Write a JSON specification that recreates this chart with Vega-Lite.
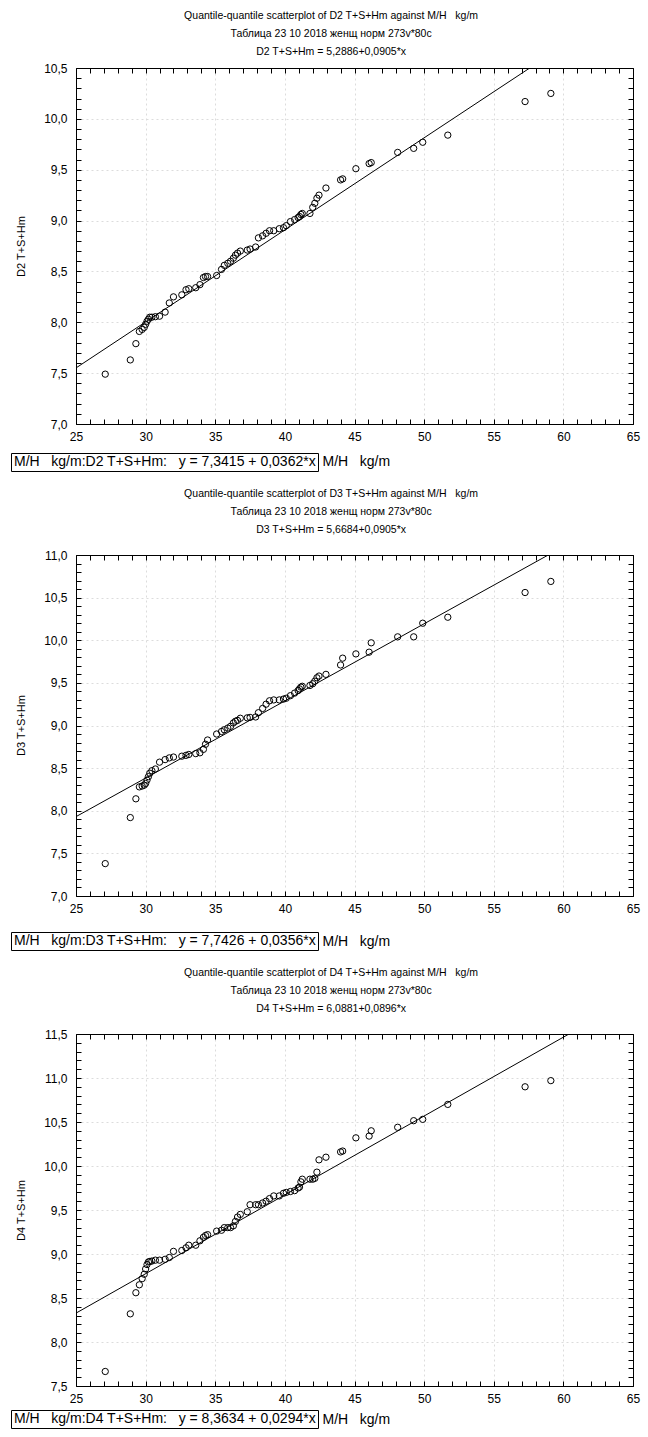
{
  "$schema": "https://vega.github.io/schema/vega-lite/v6.json",
  "background": "white",
  "padding": {"left": 10, "top": 10, "right": 4, "bottom": 2},
  "config": {
    "locale": {"number": {"decimal": ",", "thousands": " ", "grouping": [3], "currency": ["", ""]}},
    "font": "Liberation Sans",
    "view": {"stroke": null},
    "axis": {"domainColor": "black", "tickColor": "black", "labelColor": "black", "titleColor": "black", "labelFont": "Liberation Sans", "titleFont": "Liberation Sans", "labelFontSize": 12, "titleFontWeight": "normal", "labelOverlap": false, "labelFlush": false, "domainWidth": 1, "tickWidth": 1},
    "legend": {"labelFont": "Liberation Sans"},
    "title": {"font": "Liberation Sans", "fontWeight": "normal", "fontSize": 10.5, "color": "black"}
  },
  "datasets": {
    "pts": [
      {"x": 27.1, "d2": 7.49, "d3": 7.38, "d4": 7.665},
      {"x": 28.9, "d2": 7.63, "d3": 7.92, "d4": 8.32},
      {"x": 29.3, "d2": 7.79, "d3": 8.14, "d4": 8.56},
      {"x": 29.55, "d2": 7.91, "d3": 8.28, "d4": 8.65},
      {"x": 29.75, "d2": 7.93, "d3": 8.29, "d4": 8.72},
      {"x": 29.9, "d2": 7.95, "d3": 8.3, "d4": 8.77},
      {"x": 30.0, "d2": 7.98, "d3": 8.32, "d4": 8.83},
      {"x": 30.1, "d2": 8.01, "d3": 8.36, "d4": 8.88},
      {"x": 30.2, "d2": 8.03, "d3": 8.4, "d4": 8.91},
      {"x": 30.3, "d2": 8.05, "d3": 8.44, "d4": 8.915},
      {"x": 30.45, "d2": 8.05, "d3": 8.47, "d4": 8.92},
      {"x": 30.7, "d2": 8.055, "d3": 8.49, "d4": 8.93},
      {"x": 31.0, "d2": 8.06, "d3": 8.57, "d4": 8.93},
      {"x": 31.4, "d2": 8.1, "d3": 8.6, "d4": 8.94},
      {"x": 31.7, "d2": 8.19, "d3": 8.62, "d4": 8.96},
      {"x": 32.0, "d2": 8.25, "d3": 8.63, "d4": 9.03},
      {"x": 32.6, "d2": 8.27, "d3": 8.64, "d4": 9.04},
      {"x": 32.9, "d2": 8.32, "d3": 8.65, "d4": 9.07},
      {"x": 33.1, "d2": 8.33, "d3": 8.66, "d4": 9.1},
      {"x": 33.6, "d2": 8.34, "d3": 8.67, "d4": 9.1},
      {"x": 33.9, "d2": 8.37, "d3": 8.68, "d4": 9.15},
      {"x": 34.15, "d2": 8.44, "d3": 8.72, "d4": 9.19},
      {"x": 34.3, "d2": 8.45, "d3": 8.78, "d4": 9.21},
      {"x": 34.45, "d2": 8.45, "d3": 8.83, "d4": 9.22},
      {"x": 35.1, "d2": 8.46, "d3": 8.9, "d4": 9.26},
      {"x": 35.45, "d2": 8.52, "d3": 8.93, "d4": 9.27},
      {"x": 35.65, "d2": 8.56, "d3": 8.95, "d4": 9.3},
      {"x": 35.9, "d2": 8.58, "d3": 8.97, "d4": 9.3},
      {"x": 36.1, "d2": 8.6, "d3": 8.99, "d4": 9.3},
      {"x": 36.3, "d2": 8.63, "d3": 9.03, "d4": 9.32},
      {"x": 36.45, "d2": 8.66, "d3": 9.05, "d4": 9.37},
      {"x": 36.6, "d2": 8.68, "d3": 9.06, "d4": 9.42},
      {"x": 36.8, "d2": 8.7, "d3": 9.085, "d4": 9.45},
      {"x": 37.3, "d2": 8.71, "d3": 9.09, "d4": 9.48},
      {"x": 37.5, "d2": 8.72, "d3": 9.095, "d4": 9.56},
      {"x": 37.9, "d2": 8.74, "d3": 9.1, "d4": 9.56},
      {"x": 38.1, "d2": 8.83, "d3": 9.15, "d4": 9.56},
      {"x": 38.4, "d2": 8.85, "d3": 9.2, "d4": 9.58},
      {"x": 38.65, "d2": 8.875, "d3": 9.25, "d4": 9.6},
      {"x": 38.9, "d2": 8.9, "d3": 9.29, "d4": 9.63},
      {"x": 39.2, "d2": 8.9, "d3": 9.3, "d4": 9.66},
      {"x": 39.6, "d2": 8.92, "d3": 9.3, "d4": 9.66},
      {"x": 39.9, "d2": 8.93, "d3": 9.31, "d4": 9.69},
      {"x": 40.1, "d2": 8.95, "d3": 9.32, "d4": 9.7},
      {"x": 40.4, "d2": 8.99, "d3": 9.35, "d4": 9.71},
      {"x": 40.7, "d2": 9.01, "d3": 9.38, "d4": 9.72},
      {"x": 40.95, "d2": 9.03, "d3": 9.41, "d4": 9.75},
      {"x": 41.05, "d2": 9.04, "d3": 9.43, "d4": 9.76},
      {"x": 41.15, "d2": 9.06, "d3": 9.45, "d4": 9.82},
      {"x": 41.25, "d2": 9.07, "d3": 9.46, "d4": 9.85},
      {"x": 41.8, "d2": 9.07, "d3": 9.47, "d4": 9.85},
      {"x": 42.0, "d2": 9.13, "d3": 9.49, "d4": 9.85},
      {"x": 42.15, "d2": 9.17, "d3": 9.52, "d4": 9.86},
      {"x": 42.3, "d2": 9.22, "d3": 9.56, "d4": 9.93},
      {"x": 42.45, "d2": 9.25, "d3": 9.58, "d4": 10.07},
      {"x": 42.95, "d2": 9.32, "d3": 9.6, "d4": 10.1},
      {"x": 44.0, "d2": 9.4, "d3": 9.71, "d4": 10.16},
      {"x": 44.15, "d2": 9.41, "d3": 9.79, "d4": 10.17},
      {"x": 45.1, "d2": 9.51, "d3": 9.84, "d4": 10.32},
      {"x": 46.05, "d2": 9.56, "d3": 9.86, "d4": 10.34},
      {"x": 46.2, "d2": 9.57, "d3": 9.97, "d4": 10.4},
      {"x": 48.1, "d2": 9.67, "d3": 10.04, "d4": 10.44},
      {"x": 49.25, "d2": 9.71, "d3": 10.04, "d4": 10.515},
      {"x": 49.9, "d2": 9.77, "d3": 10.2, "d4": 10.53},
      {"x": 51.7, "d2": 9.84, "d3": 10.27, "d4": 10.7},
      {"x": 57.25, "d2": 10.17, "d3": 10.56, "d4": 10.9},
      {"x": 59.1, "d2": 10.25, "d3": 10.69, "d4": 10.97}
    ]
  },
  "spacing": 16,
  "resolve": {"scale": {"stroke": "independent"}, "legend": {"stroke": "independent"}},
  "vconcat": [
    {
      "width": 557,
      "height": 356,
      "title": {"text": ["Quantile-quantile scatterplot of D2 T+S+Hm against M/H\u00a0\u00a0 kg/m", "Таблица 23 10 2018 женщ норм 273v*80c", "D2 T+S+Hm = 5,2886+0,0905*x"], "lineHeight": 18, "offset": 5, "anchor": "middle", "frame": "bounds", "dx": 6},
      "resolve": {"axis": {"x": "independent", "y": "independent"}},
      "layer": [
        {
          "data": {"name": "pts"},
          "mark": {"type": "point", "opacity": 0},
          "encoding": {
            "x": {"field": "x", "type": "quantitative", "scale": {"domain": [25, 65], "nice": false, "zero": false}, "axis": {"orient": "bottom", "values": [25, 30, 35, 40, 45, 50, 55, 60, 65], "grid": true, "ticks": false, "labels": false, "domain": false, "title": null, "gridColor": "#dcdcdc", "gridDash": [2, 3]}},
            "y": {"field": "d2", "type": "quantitative", "scale": {"domain": [7, 10.5], "nice": false, "zero": false}, "axis": {"orient": "left", "values": [7, 7.5, 8, 8.5, 9, 9.5, 10, 10.5], "grid": true, "ticks": false, "labels": false, "domain": false, "title": null, "gridColor": "#dcdcdc", "gridDash": [2, 3]}}
          }
        },
        {
          "data": {"name": "pts"},
          "mark": {"type": "point", "shape": "circle", "filled": false, "stroke": "black", "strokeWidth": 1, "size": 40, "opacity": 1},
          "encoding": {
            "x": {"field": "x", "type": "quantitative", "scale": {"domain": [25, 65], "nice": false, "zero": false}, "axis": {"orient": "bottom", "values": [25,26,27,28,29,30,31,32,33,34,35,36,37,38,39,40,41,42,43,44,45,46,47,48,49,50,51,52,53,54,55,56,57,58,59,60,61,62,63,64,65], "format": "d", "labelExpr": "datum.value % 5 == 0 ? datum.label : ''", "tickSize": -5, "labelPadding": 12, "grid": false, "title": "M/H\u00a0\u00a0 kg/m", "titleFontSize": 14, "titleX": 246, "titleY": 37, "titleAlign": "left", "titleBaseline": "middle", "titleAnchor": "start"}},
            "y": {"field": "d2", "type": "quantitative", "scale": {"domain": [7, 10.5], "nice": false, "zero": false}, "axis": {"orient": "left", "values": [7,7.1,7.2,7.3,7.4,7.5,7.6,7.7,7.8,7.9,8,8.1,8.2,8.3,8.4,8.5,8.6,8.7,8.8,8.9,9,9.1,9.2,9.3,9.4,9.5,9.6,9.7,9.8,9.9,10,10.1,10.2,10.3,10.4,10.5], "format": ".1f", "labelExpr": "abs(datum.value*2 - round(datum.value*2)) < 0.001 ? datum.label : ''", "tickSize": -5, "labelPadding": 14, "grid": false, "title": "D2 T+S+Hm", "titleFontSize": 11, "titleX": -55, "titleY": 178, "titleAngle": 270, "titleAlign": "center", "titleBaseline": "middle"}}
          }
        },
        {
          "data": {"values": [{"x": 25, "y": 7.5511}, {"x": 65, "y": 11.1711}]},
          "mark": {"type": "line", "clip": true, "strokeWidth": 1},
          "encoding": {
            "x": {"field": "x", "type": "quantitative", "scale": {"domain": [25, 65], "nice": false, "zero": false}, "axis": {"orient": "top", "values": [25,26,27,28,29,30,31,32,33,34,35,36,37,38,39,40,41,42,43,44,45,46,47,48,49,50,51,52,53,54,55,56,57,58,59,60,61,62,63,64,65], "labels": false, "tickSize": -5, "grid": false, "title": null}},
            "y": {"field": "y", "type": "quantitative", "scale": {"domain": [7, 10.5], "nice": false, "zero": false}, "axis": {"orient": "right", "values": [7,7.1,7.2,7.3,7.4,7.5,7.6,7.7,7.8,7.9,8,8.1,8.2,8.3,8.4,8.5,8.6,8.7,8.8,8.9,9,9.1,9.2,9.3,9.4,9.5,9.6,9.7,9.8,9.9,10,10.1,10.2,10.3,10.4,10.5], "labels": false, "tickSize": -5, "grid": false, "title": null}},
            "stroke": {"datum": "M/H\u00a0\u00a0 kg/m:D2 T+S+Hm:\u00a0\u00a0 y = 7,3415 + 0,0362*x", "type": "nominal", "scale": {"range": ["black"]}, "legend": {"orient": "none", "legendX": -65, "legendY": 385, "title": null, "symbolType": "circle", "symbolSize": 0, "symbolStrokeWidth": 0, "symbolOpacity": 0, "labelOffset": -13, "labelFontSize": 14, "labelColor": "black", "labelLimit": 500, "strokeColor": "black", "padding": 2}}
          }
        }
      ]
    },
    {
      "width": 557,
      "height": 341,
      "title": {"text": ["Quantile-quantile scatterplot of D3 T+S+Hm against M/H\u00a0\u00a0 kg/m", "Таблица 23 10 2018 женщ норм 273v*80c", "D3 T+S+Hm = 5,6684+0,0905*x"], "lineHeight": 18, "offset": 14, "anchor": "middle", "frame": "bounds", "dx": 6},
      "resolve": {"axis": {"x": "independent", "y": "independent"}},
      "layer": [
        {
          "data": {"name": "pts"},
          "mark": {"type": "point", "opacity": 0},
          "encoding": {
            "x": {"field": "x", "type": "quantitative", "scale": {"domain": [25, 65], "nice": false, "zero": false}, "axis": {"orient": "bottom", "values": [25, 30, 35, 40, 45, 50, 55, 60, 65], "grid": true, "ticks": false, "labels": false, "domain": false, "title": null, "gridColor": "#dcdcdc", "gridDash": [2, 3]}},
            "y": {"field": "d3", "type": "quantitative", "scale": {"domain": [7, 11], "nice": false, "zero": false}, "axis": {"orient": "left", "values": [7, 7.5, 8, 8.5, 9, 9.5, 10, 10.5, 11], "grid": true, "ticks": false, "labels": false, "domain": false, "title": null, "gridColor": "#dcdcdc", "gridDash": [2, 3]}}
          }
        },
        {
          "data": {"name": "pts"},
          "mark": {"type": "point", "shape": "circle", "filled": false, "stroke": "black", "strokeWidth": 1, "size": 40, "opacity": 1},
          "encoding": {
            "x": {"field": "x", "type": "quantitative", "scale": {"domain": [25, 65], "nice": false, "zero": false}, "axis": {"orient": "bottom", "values": [25,26,27,28,29,30,31,32,33,34,35,36,37,38,39,40,41,42,43,44,45,46,47,48,49,50,51,52,53,54,55,56,57,58,59,60,61,62,63,64,65], "format": "d", "labelExpr": "datum.value % 5 == 0 ? datum.label : ''", "tickSize": -5, "labelPadding": 12, "grid": false, "title": "M/H\u00a0\u00a0 kg/m", "titleFontSize": 14, "titleX": 246, "titleY": 45, "titleAlign": "left", "titleBaseline": "middle", "titleAnchor": "start"}},
            "y": {"field": "d3", "type": "quantitative", "scale": {"domain": [7, 11], "nice": false, "zero": false}, "axis": {"orient": "left", "values": [7,7.1,7.2,7.3,7.4,7.5,7.6,7.7,7.8,7.9,8,8.1,8.2,8.3,8.4,8.5,8.6,8.7,8.8,8.9,9,9.1,9.2,9.3,9.4,9.5,9.6,9.7,9.8,9.9,10,10.1,10.2,10.3,10.4,10.5,10.6,10.7,10.8,10.9,11], "format": ".1f", "labelExpr": "abs(datum.value*2 - round(datum.value*2)) < 0.001 ? datum.label : ''", "tickSize": -5, "labelPadding": 14, "grid": false, "title": "D3 T+S+Hm", "titleFontSize": 11, "titleX": -55, "titleY": 170, "titleAngle": 270, "titleAlign": "center", "titleBaseline": "middle"}}
          }
        },
        {
          "data": {"values": [{"x": 25, "y": 7.9309}, {"x": 65, "y": 11.5509}]},
          "mark": {"type": "line", "clip": true, "strokeWidth": 1},
          "encoding": {
            "x": {"field": "x", "type": "quantitative", "scale": {"domain": [25, 65], "nice": false, "zero": false}, "axis": {"orient": "top", "values": [25,26,27,28,29,30,31,32,33,34,35,36,37,38,39,40,41,42,43,44,45,46,47,48,49,50,51,52,53,54,55,56,57,58,59,60,61,62,63,64,65], "labels": false, "tickSize": -5, "grid": false, "title": null}},
            "y": {"field": "y", "type": "quantitative", "scale": {"domain": [7, 11], "nice": false, "zero": false}, "axis": {"orient": "right", "values": [7,7.1,7.2,7.3,7.4,7.5,7.6,7.7,7.8,7.9,8,8.1,8.2,8.3,8.4,8.5,8.6,8.7,8.8,8.9,9,9.1,9.2,9.3,9.4,9.5,9.6,9.7,9.8,9.9,10,10.1,10.2,10.3,10.4,10.5,10.6,10.7,10.8,10.9,11], "labels": false, "tickSize": -5, "grid": false, "title": null}},
            "stroke": {"datum": "M/H\u00a0\u00a0 kg/m:D3 T+S+Hm:\u00a0\u00a0 y = 7,7426 + 0,0356*x", "type": "nominal", "scale": {"range": ["black"]}, "legend": {"orient": "none", "legendX": -65, "legendY": 377, "title": null, "symbolType": "circle", "symbolSize": 0, "symbolStrokeWidth": 0, "symbolOpacity": 0, "labelOffset": -13, "labelFontSize": 14, "labelColor": "black", "labelLimit": 500, "strokeColor": "black", "padding": 2}}
          }
        }
      ]
    },
    {
      "width": 557,
      "height": 352,
      "title": {"text": ["Quantile-quantile scatterplot of D4 T+S+Hm against M/H\u00a0\u00a0 kg/m", "Таблица 23 10 2018 женщ норм 273v*80c", "D4 T+S+Hm = 6,0881+0,0896*x"], "lineHeight": 18, "offset": 14, "anchor": "middle", "frame": "bounds", "dx": 6},
      "resolve": {"axis": {"x": "independent", "y": "independent"}},
      "layer": [
        {
          "data": {"name": "pts"},
          "mark": {"type": "point", "opacity": 0},
          "encoding": {
            "x": {"field": "x", "type": "quantitative", "scale": {"domain": [25, 65], "nice": false, "zero": false}, "axis": {"orient": "bottom", "values": [25, 30, 35, 40, 45, 50, 55, 60, 65], "grid": true, "ticks": false, "labels": false, "domain": false, "title": null, "gridColor": "#dcdcdc", "gridDash": [2, 3]}},
            "y": {"field": "d4", "type": "quantitative", "scale": {"domain": [7.5, 11.5], "nice": false, "zero": false}, "axis": {"orient": "left", "values": [7.5, 8, 8.5, 9, 9.5, 10, 10.5, 11, 11.5], "grid": true, "ticks": false, "labels": false, "domain": false, "title": null, "gridColor": "#dcdcdc", "gridDash": [2, 3]}}
          }
        },
        {
          "data": {"name": "pts"},
          "mark": {"type": "point", "shape": "circle", "filled": false, "stroke": "black", "strokeWidth": 1, "size": 40, "opacity": 1},
          "encoding": {
            "x": {"field": "x", "type": "quantitative", "scale": {"domain": [25, 65], "nice": false, "zero": false}, "axis": {"orient": "bottom", "values": [25,26,27,28,29,30,31,32,33,34,35,36,37,38,39,40,41,42,43,44,45,46,47,48,49,50,51,52,53,54,55,56,57,58,59,60,61,62,63,64,65], "format": "d", "labelExpr": "datum.value % 5 == 0 ? datum.label : ''", "tickSize": -5, "labelPadding": 12, "grid": false, "title": "M/H\u00a0\u00a0 kg/m", "titleFontSize": 14, "titleX": 246, "titleY": 33, "titleAlign": "left", "titleBaseline": "middle", "titleAnchor": "start"}},
            "y": {"field": "d4", "type": "quantitative", "scale": {"domain": [7.5, 11.5], "nice": false, "zero": false}, "axis": {"orient": "left", "values": [7.5,7.6,7.7,7.8,7.9,8,8.1,8.2,8.3,8.4,8.5,8.6,8.7,8.8,8.9,9,9.1,9.2,9.3,9.4,9.5,9.6,9.7,9.8,9.9,10,10.1,10.2,10.3,10.4,10.5,10.6,10.7,10.8,10.9,11,11.1,11.2,11.3,11.4,11.5], "format": ".1f", "labelExpr": "abs(datum.value*2 - round(datum.value*2)) < 0.001 ? datum.label : ''", "tickSize": -5, "labelPadding": 14, "grid": false, "title": "D4 T+S+Hm", "titleFontSize": 11, "titleX": -55, "titleY": 176, "titleAngle": 270, "titleAlign": "center", "titleBaseline": "middle"}}
          }
        },
        {
          "data": {"values": [{"x": 25, "y": 8.3281}, {"x": 65, "y": 11.9121}]},
          "mark": {"type": "line", "clip": true, "strokeWidth": 1},
          "encoding": {
            "x": {"field": "x", "type": "quantitative", "scale": {"domain": [25, 65], "nice": false, "zero": false}, "axis": {"orient": "top", "values": [25,26,27,28,29,30,31,32,33,34,35,36,37,38,39,40,41,42,43,44,45,46,47,48,49,50,51,52,53,54,55,56,57,58,59,60,61,62,63,64,65], "labels": false, "tickSize": -5, "grid": false, "title": null}},
            "y": {"field": "y", "type": "quantitative", "scale": {"domain": [7.5, 11.5], "nice": false, "zero": false}, "axis": {"orient": "right", "values": [7.5,7.6,7.7,7.8,7.9,8,8.1,8.2,8.3,8.4,8.5,8.6,8.7,8.8,8.9,9,9.1,9.2,9.3,9.4,9.5,9.6,9.7,9.8,9.9,10,10.1,10.2,10.3,10.4,10.5,10.6,10.7,10.8,10.9,11,11.1,11.2,11.3,11.4,11.5], "labels": false, "tickSize": -5, "grid": false, "title": null}},
            "stroke": {"datum": "M/H\u00a0\u00a0 kg/m:D4 T+S+Hm:\u00a0\u00a0 y = 8,3634 + 0,0294*x", "type": "nominal", "scale": {"range": ["black"]}, "legend": {"orient": "none", "legendX": -65, "legendY": 376, "title": null, "symbolType": "circle", "symbolSize": 0, "symbolStrokeWidth": 0, "symbolOpacity": 0, "labelOffset": -13, "labelFontSize": 14, "labelColor": "black", "labelLimit": 500, "strokeColor": "black", "padding": 2}}
          }
        }
      ]
    }
  ]
}
